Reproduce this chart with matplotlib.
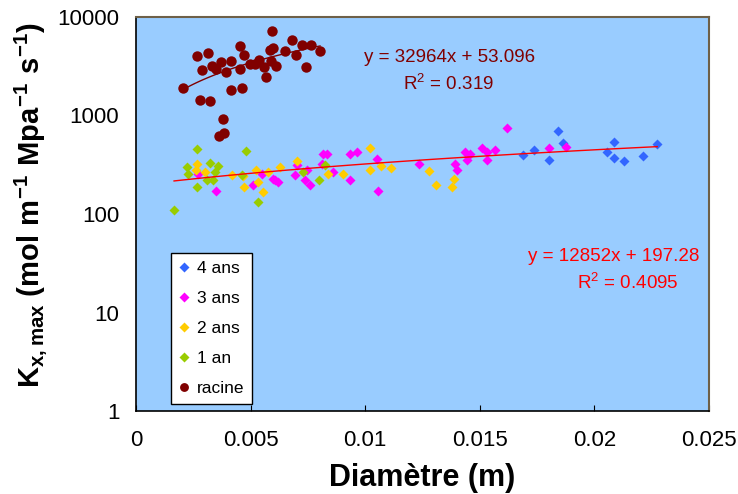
import numpy as np
import matplotlib
matplotlib.use('Agg')
import matplotlib.pyplot as plt
from matplotlib.ticker import FixedLocator, FuncFormatter, NullLocator

plt.rcParams['font.family'] = ['Liberation Sans', 'DejaVu Sans']
plt.rcParams['mathtext.fontset'] = 'custom'
plt.rcParams['mathtext.rm'] = 'Liberation Sans'
plt.rcParams['mathtext.bf'] = 'Liberation Sans:bold'

# ---- donnees ----
x_4ans = [0.01690, 0.01738, 0.01802, 0.01842, 0.01862, 0.02055, 0.02087, 0.02087, 0.02129, 0.02211, 0.02274]
y_4ans = [400, 450, 356, 696, 530, 428, 538, 370, 345, 385, 518]

x_3ans = [0.00272, 0.00348, 0.00512, 0.00548, 0.00599, 0.00606, 0.00621, 0.00694, 0.00701, 0.00737,
          0.00745, 0.00759, 0.00810, 0.00817, 0.00832, 0.00861, 0.00934, 0.00963, 0.00934, 0.01050,
          0.01057, 0.01236, 0.01392, 0.01399, 0.01435, 0.01443, 0.01457, 0.01508, 0.01530, 0.01530,
          0.01566, 0.01620, 0.01802, 0.01878]
y_3ans = [252, 173, 195, 257, 228, 219, 211, 247, 312, 219,
          277, 195, 324, 410, 403, 266, 410, 426, 219, 365,
          173, 319, 324, 277, 426, 350, 403, 472, 426, 350,
          450, 754, 467, 481]

x_2ans = [0.00265, 0.00262, 0.00301, 0.00418, 0.00466, 0.00473, 0.00522, 0.00531, 0.00555, 0.00575,
          0.00628, 0.00701, 0.00839, 0.00902, 0.01021, 0.01021, 0.01069, 0.01111, 0.01280, 0.01309,
          0.01377, 0.01387]
y_2ans = [324, 282, 266, 251, 241, 187, 282, 211, 167, 266,
          300, 348, 257, 257, 467, 277, 308, 293, 273, 195,
          187, 228]

x_1an = [0.00265, 0.00480, 0.00221, 0.00228, 0.00323, 0.00358, 0.00345, 0.00336, 0.00265, 0.00308,
         0.00461, 0.00534, 0.00166, 0.00730, 0.00800, 0.00825]
y_1an = [461, 433, 300, 257, 327, 304, 265, 219, 187, 219,
         247, 132, 109, 266, 219, 312]

x_racine = [0.00595, 0.00267, 0.00315, 0.00455, 0.00470, 0.00679, 0.00726, 0.00762, 0.00803, 0.00583,
            0.00596, 0.00650, 0.00698, 0.00288, 0.00330, 0.00348, 0.00372, 0.00393, 0.00413, 0.00455,
            0.00497, 0.00518, 0.00538, 0.00560, 0.00588, 0.00610, 0.00740, 0.00566, 0.00204, 0.00413,
            0.00462, 0.00281, 0.00323, 0.00380, 0.00385, 0.00363]
y_racine = [7260, 4010, 4340, 5040, 4130, 5840, 5190, 5220, 4480, 4610,
            4830, 4480, 4130, 2870, 3190, 2960, 3460, 2770, 3560, 2960,
            3300, 3300, 3680, 3080, 3590, 3190, 3080, 2450, 1880, 1820,
            1880, 1450, 1400, 930, 664, 615]

eq_racine = ['y = 32964x + 53.096', 'R$^2$ = 0.319']
eq_tiges = ['y = 12852x + 197.28', 'R$^2$ = 0.4095']

# ---- figure ----
fig = plt.figure(figsize=(7.38, 4.94), dpi=100)
ax = fig.add_axes([0.1843, 0.168, 0.7764, 0.7976])
ax.set_facecolor('#99CCFF')

ms_d = 5.4
ax.plot(x_4ans, y_4ans, 'D', ms=ms_d, color='#3366FF', mec='none', label='4 ans')
ax.plot(x_3ans, y_3ans, 'D', ms=ms_d, color='#FF00FF', mec='none', label='3 ans')
ax.plot(x_2ans, y_2ans, 'D', ms=ms_d, color='#FFCC00', mec='none', label='2 ans')
ax.plot(x_1an, y_1an, 'D', ms=ms_d, color='#99CC00', mec='none', label='1 an')
ax.plot(x_racine, y_racine, 'o', ms=7.5, color='#800000', mec='none', label='racine')

# courbes de tendance lineaires
xt = np.concatenate([x_4ans, x_3ans, x_2ans, x_1an])
yt = np.concatenate([y_4ans, y_3ans, y_2ans, y_1an])
a, b = np.polyfit(xt, yt, 1)
xx = np.linspace(xt.min(), xt.max(), 100)
ax.plot(xx, a * xx + b, color='#FF0000', lw=1, zorder=5)

a2, b2 = np.polyfit(x_racine, y_racine, 1)
xx2 = np.linspace(min(x_racine), max(x_racine), 100)
ax.plot(xx2, a2 * xx2 + b2, color='#800000', lw=1, zorder=5)

ax.set_yscale('log')
ax.set_ylim(1, 10000)
ax.set_xlim(0, 0.025)
ax.yaxis.set_major_locator(FixedLocator([1, 10, 100, 1000, 10000]))
ax.yaxis.set_minor_locator(NullLocator())
ax.yaxis.set_major_formatter(FuncFormatter(lambda v, p: f'{v:g}'))
ax.xaxis.set_major_locator(FixedLocator([0, 0.005, 0.01, 0.015, 0.02, 0.025]))
ax.xaxis.set_major_formatter(FuncFormatter(lambda v, p: f'{v:g}'))
ax.tick_params(axis='x', direction='in', length=4, pad=14, labelsize=16, top=False)
ax.tick_params(axis='y', length=0, pad=12, labelsize=16)

for s in ['left', 'bottom']:
    ax.spines[s].set_color('black')
    ax.spines[s].set_linewidth(1.2)
for s in ['top', 'right']:
    ax.spines[s].set_color('#6e6048')
    ax.spines[s].set_linewidth(1.5)

ax.set_xlabel('Diamètre (m)', fontsize=22, fontweight='bold', labelpad=8)
ax.set_ylabel(r'$\mathbf{K_{x,max}}$ $\mathbf{(mol\ m^{-1}\ Mpa^{-1}\ s^{-1})}$', fontsize=21)
ax.yaxis.set_label_coords(-0.152, 0.523)

ax.text(0.548, 0.898, eq_racine[0], transform=ax.transAxes, ha='center', va='center',
        fontsize=13.5, color='#800000')
ax.text(0.545, 0.830, eq_racine[1], transform=ax.transAxes, ha='center', va='center',
        fontsize=13.5, color='#800000')
ax.text(0.834, 0.393, eq_tiges[0], transform=ax.transAxes, ha='center', va='center',
        fontsize=13.5, color='#FF0000')
ax.text(0.859, 0.325, eq_tiges[1], transform=ax.transAxes, ha='center', va='center',
        fontsize=13.5, color='#FF0000')

leg = ax.legend(loc='lower left', bbox_to_anchor=(0.061, 0.018), borderaxespad=0, fontsize=12.5,
                frameon=True, fancybox=False, edgecolor='black', framealpha=1, borderpad=0.45,
                labelspacing=0.85, handlelength=0.6, handletextpad=0.45, markerscale=0.85)
leg.get_frame().set_linewidth(1)

fig.savefig('out.png', dpi=100)
